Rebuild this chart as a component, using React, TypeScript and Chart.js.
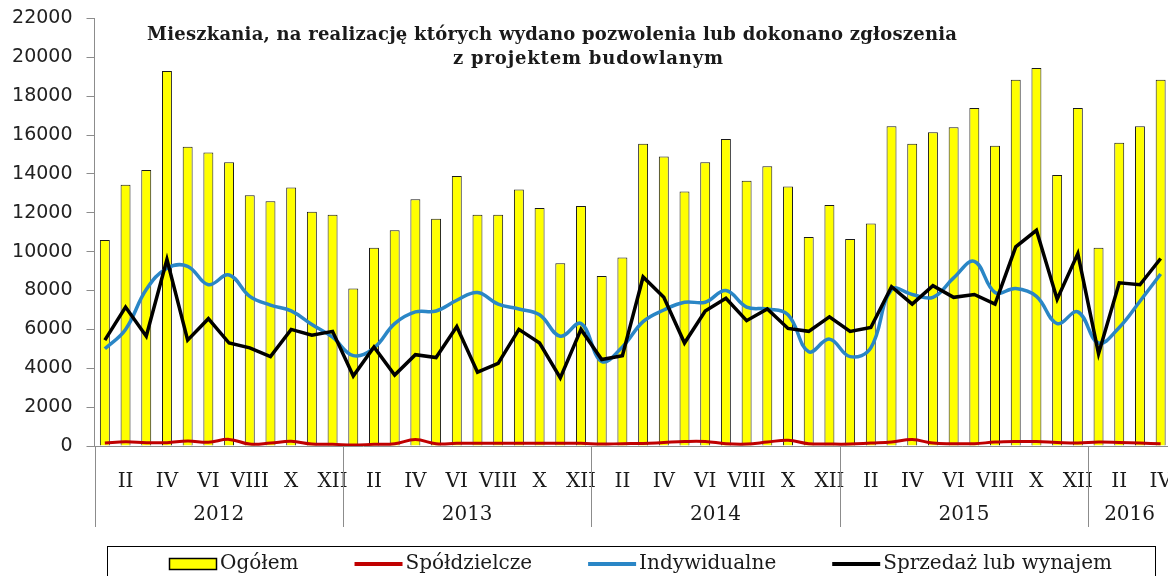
import React, { useEffect, useRef } from 'react';
import { Chart, registerables } from 'chart.js';

Chart.register(...registerables);

const titleLines = [
  'Mieszkania, na realizację których wydano pozwolenia lub dokonano zgłoszenia',
  'z projektem budowlanym',
];

const years = ['2012', '2013', '2014', '2015', '2016'];
const monthsPerYear = [12, 12, 12, 12, 4];
const monthNames = ['I', 'II', 'III', 'IV', 'V', 'VI', 'VII', 'VIII', 'IX', 'X', 'XI', 'XII'];

const categories: string[] = [];
years.forEach((_, i) => {
  for (let m = 0; m < monthsPerYear[i]; m++) categories.push(monthNames[m]);
});

const ogolem = [
  10600, 13450, 14200, 19300, 15400, 15100, 14600, 12900, 12600, 13300, 12050, 11900,
  8100, 10200, 11100, 12700, 11700, 13900, 11900, 11900, 13200, 12250, 9400, 12350,
  8750, 9700, 15550, 14900, 13100, 14600, 15800, 13650, 14400, 13350, 10750, 12400,
  10650, 11450, 16450, 15550, 16150, 16400, 17400, 15450, 18850, 19450, 13950, 17400,
  10200, 15600, 16450, 18850,
];

const spoldzielcze = [
  150, 220, 170, 170, 260, 190, 340, 100, 150, 240, 100, 90,
  50, 90, 120, 330, 120, 140, 140, 140, 140, 140, 140, 140,
  100, 120, 130, 180, 230, 230, 120, 100, 200, 300, 120, 100,
  100, 150, 200, 330, 150, 120, 120, 200, 230, 230, 180, 150,
  200, 180, 150, 110,
];

const indywidualne = [
  5000, 6000, 8050, 9150, 9250, 8300, 8800, 7700, 7250, 6950, 6250, 5600,
  4650, 5050, 6300, 6900, 6950, 7500, 7900, 7300, 7050, 6750, 5650, 6300,
  4350, 5100, 6400, 7000, 7400, 7400, 8000, 7150, 7050, 6750, 4850, 5500,
  4600, 5050, 8050, 7800, 7650, 8650, 9500, 7900, 8100, 7700, 6300, 6900,
  5300, 6100, 7450, 8850,
];

const sprzedaz = [
  5450, 7150, 5650, 9600, 5450, 6550, 5300, 5050, 4600, 6000, 5700, 5900,
  3600, 5100, 3650, 4700, 4550, 6150, 3800, 4250, 6000, 5300, 3500, 6000,
  4450, 4650, 8700, 7650, 5300, 6950, 7600, 6450, 7050, 6050, 5900, 6650,
  5900, 6100, 8200, 7300, 8250, 7650, 7800, 7300, 10250, 11100, 7550, 9900,
  4750, 8400, 8300, 9650,
];

const AXIS_GRAY = '#8c8c8c';
const TEXT = '#1a1a1a';

const decorPlugin = {
  id: 'decor',
  afterDraw(chart: any) {
    const { ctx, scales } = chart;
    const xs = scales.x;
    ctx.save();

    // Title (two lines, drawn over the plot area)
    ctx.fillStyle = TEXT;
    ctx.textAlign = 'left';
    ctx.textBaseline = 'alphabetic';
    ctx.font = 'bold 18px "DejaVu Serif"';
    const titlePos = [
      { x: 147, y: 40, w: 810 },
      { x: 453, y: 64, w: 270 },
    ];
    titleLines.forEach((t, i) => {
      (ctx as any).letterSpacing = '0px';
      const natural = ctx.measureText(t).width;
      const sp = (titlePos[i].w - natural) / (t.length - 1);
      (ctx as any).letterSpacing = `${sp}px`;
      ctx.fillText(t, titlePos[i].x, titlePos[i].y);
    });
    (ctx as any).letterSpacing = '0px';

    // Year separators and year labels
    const w = xs.getPixelForValue(1) - xs.getPixelForValue(0);
    const top = xs.top;
    const sepBottom = top + 81;
    ctx.strokeStyle = AXIS_GRAY;
    ctx.lineWidth = 1;
    ctx.font = '20px "DejaVu Serif"';
    ctx.textAlign = 'center';
    ctx.textBaseline = 'middle';
    let start = 0;
    years.forEach((yr, i) => {
      const n = monthsPerYear[i];
      const left = xs.getPixelForValue(start) - w / 2;
      const right = xs.getPixelForValue(start + n - 1) + w / 2;
      const lx = Math.round(left) + 0.5;
      ctx.beginPath();
      ctx.moveTo(lx, top);
      ctx.lineTo(lx, sepBottom);
      ctx.stroke();
      if (i === years.length - 1) {
        const rx = Math.round(right) + 0.5;
        ctx.beginPath();
        ctx.moveTo(rx, top);
        ctx.lineTo(rx, sepBottom);
        ctx.stroke();
      }
      ctx.fillStyle = TEXT;
      ctx.fillText(yr, (left + right) / 2, top + 69);
      start += n;
    });

    // Legend
    const boxL = 107, boxT = 546, boxR = 1155;
    ctx.strokeStyle = '#000';
    ctx.lineWidth = 1;
    ctx.strokeRect(boxL + 0.5, boxT + 0.5, boxR - boxL, 60);
    let x = 169;
    const cy = 564;
    ctx.textAlign = 'left';
    ctx.textBaseline = 'middle';
    chart.data.datasets.forEach((ds: any) => {
      if (ds.type === 'bar') {
        ctx.fillStyle = ds.backgroundColor;
        ctx.fillRect(x, cy - 6, 48, 12);
        ctx.strokeStyle = '#000';
        ctx.lineWidth = 1.5;
        ctx.strokeRect(x + 0.5, cy - 5.5, 47, 11);
      } else {
        ctx.strokeStyle = ds.borderColor;
        ctx.lineWidth = 4;
        ctx.beginPath();
        ctx.moveTo(x, cy);
        ctx.lineTo(x + 48, cy);
        ctx.stroke();
      }
      x += 48 + 3;
      ctx.fillStyle = TEXT;
      ctx.fillText(ds.label, x, cy);
      x += ctx.measureText(ds.label).width + 56;
    });

    ctx.restore();
  },
};

export default function App() {
  const ref = useRef<HTMLCanvasElement>(null);

  useEffect(() => {
    const canvas = ref.current;
    if (!canvas) return;
    const chart = new Chart(canvas, {
      type: 'bar',
      data: {
        labels: categories,
        datasets: [
          {
            type: 'bar',
            label: 'Ogółem',
            data: ogolem,
            backgroundColor: '#FFFF00',
            borderColor: '#1a1a1a',
            borderWidth: 1,
            barPercentage: 0.48,
            categoryPercentage: 1,
            order: 10,
          } as any,
          {
            type: 'line',
            label: 'Spółdzielcze',
            data: spoldzielcze,
            borderColor: '#C00000',
            borderWidth: 3,
            tension: 0.4,
            pointRadius: 0,
            fill: false,
            order: 3,
          },
          {
            type: 'line',
            label: 'Indywidualne',
            data: indywidualne,
            borderColor: '#2A86C6',
            borderWidth: 3.5,
            tension: 0.4,
            pointRadius: 0,
            fill: false,
            order: 2,
          },
          {
            type: 'line',
            label: 'Sprzedaż lub wynajem',
            data: sprzedaz,
            borderColor: '#000000',
            borderWidth: 3.5,
            tension: 0,
            pointRadius: 0,
            fill: false,
            order: 1,
          },
        ],
      },
      options: {
        animation: false,
        responsive: false,
        layout: { padding: { left: 0, right: 0, top: 18.5, bottom: 0 } },
        plugins: {
          legend: { display: false },
          tooltip: { enabled: false },
          title: { display: false },
        },
        scales: {
          x: {
            type: 'category',
            offset: true,
            grid: { display: false, offset: true },
            border: { display: true, color: AXIS_GRAY, width: 1 },
            ticks: {
              autoSkip: false,
              maxRotation: 0,
              minRotation: 0,
              padding: 16,
              color: TEXT,
              font: { family: 'DejaVu Serif', size: 20 },
              callback: (_v: any, i: number) => (i % 2 === 1 ? categories[i] : ''),
            },
            afterFit: (s: any) => {
              s.height = 130;
              s.paddingLeft = 0;
              s.paddingRight = 0;
            },
          },
          y: {
            min: 0,
            max: 22000,
            ticks: {
              stepSize: 2000,
              padding: 14,
              color: '#222',
              font: { family: 'DejaVu Sans', size: 19 },
              callback: (v: any) => String(v),
            },
            grid: { drawOnChartArea: false, drawTicks: true, tickLength: 8, color: AXIS_GRAY },
            border: { display: true, color: AXIS_GRAY },
            afterFit: (s: any) => {
              s.width = 94.5;
              s.paddingTop = 0;
              s.paddingBottom = 0;
            },
          },
        },
      } as any,
      plugins: [decorPlugin],
    });
    return () => chart.destroy();
  }, []);

  return (
    <div
      style={{
        position: 'fixed',
        left: 0,
        top: 0,
        width: 1168,
        height: 576,
        overflow: 'hidden',
        background: '#fff',
      }}
    >
      <canvas ref={ref} width={1171} height={576} style={{ display: 'block' }} />
    </div>
  );
}
